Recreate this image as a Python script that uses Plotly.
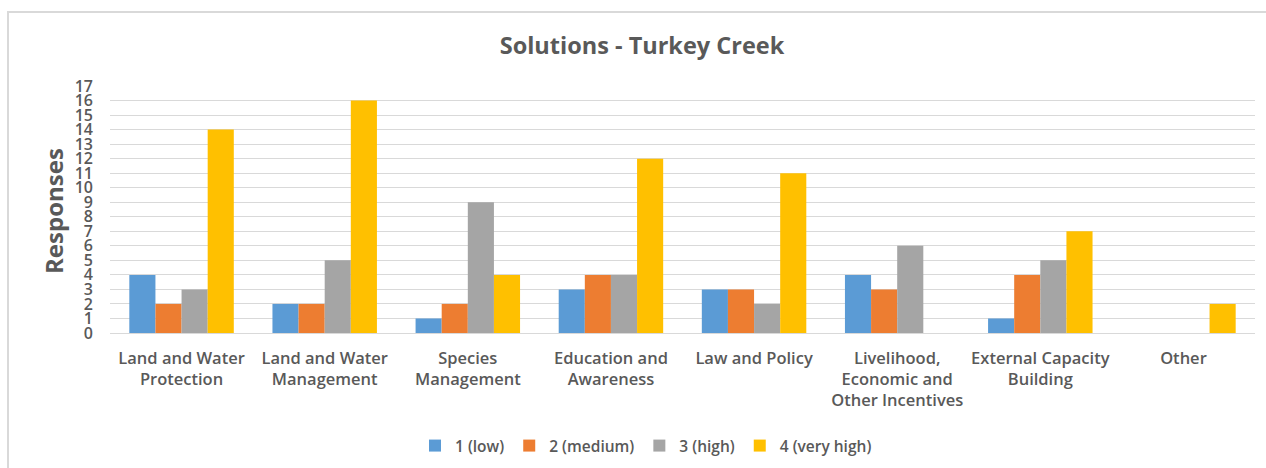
import plotly.graph_objects as go

categories = [
    "Land and Water<br>Protection",
    "Land and Water<br>Management",
    "Species<br>Management",
    "Education and<br>Awareness",
    "Law and Policy",
    "Livelihood,<br>Economic and<br>Other Incentives",
    "External Capacity<br>Building",
    "Other",
]
series_names = ["1 (low)", "2 (medium)", "3 (high)", "4 (very high)"]
low = [4, 2, 1, 3, 3, 4, 1, 0]
medium = [2, 2, 2, 4, 3, 3, 4, 0]
high = [3, 5, 9, 4, 2, 6, 5, 0]
very_high = [14, 16, 4, 12, 11, 0, 7, 2]
colors = ["#5b9bd5", "#ed7d31", "#a5a5a5", "#ffc000"]
y_ticks = list(range(0, 18))

W, H = 1266, 468
L, R, T, B = 110, 11, 86, 135
pw, ph = W - L - R, H - T - B

font_family = "'Open Sans', sans-serif"
text_color = "#595959"

fig = go.Figure()
for name, vals, col in zip(series_names, [low, medium, high, very_high], colors):
    fig.add_trace(go.Bar(x=categories, y=vals, name=name, marker_color=col,
                         marker_line_width=0))

fig.update_layout(
    width=W, height=H,
    margin=dict(l=L, r=R, t=T, b=B, autoexpand=False),
    paper_bgcolor="white", plot_bgcolor="white",
    barmode="group", bargap=0.27, bargroupgap=0,
    font=dict(family=font_family, color=text_color),
    title=dict(text="<b>Solutions - Turkey Creek</b>", x=642 / W, xref="container",
               xanchor="center", y=1 - 46 / H, yref="container", yanchor="middle",
               font=dict(size=23.5, color=text_color)),
    xaxis=dict(showline=False, ticks="", ticklabelstandoff=13,
               tickfont=dict(size=16.5, color=text_color, weight=600),
               showgrid=False, zeroline=False),
    yaxis=dict(range=[0, 17], tickvals=y_ticks, ticktext=[str(v) for v in y_ticks],
               showgrid=True, gridcolor="#d9d9d9", gridwidth=1,
               zeroline=True, zerolinecolor="#d9d9d9", zerolinewidth=1,
               showline=False, ticks="", ticklabelstandoff=16,
               tickfont=dict(size=16, color=text_color, weight=600)),
    legend=dict(orientation="h", x=646 / W, xref="container", xanchor="center",
                y=1 - 446 / H, yref="container", yanchor="middle",
                font=dict(size=15.5, color=text_color, weight=600),
                itemwidth=30, traceorder="normal"),
    showlegend=True,
)

fig.add_annotation(text="<b>Responses</b>", xref="paper", yref="paper",
                   x=(53 - L) / pw, y=(333 - 211) / ph, textangle=-90,
                   showarrow=False, xanchor="center", yanchor="middle",
                   font=dict(size=24, color=text_color))

# outer chart frame
fig.add_shape(type="rect", xref="paper", yref="paper",
              x0=(8 - L) / pw, x1=(W + 10 - L) / pw,
              y0=(H - B - H - 10) / ph, y1=(H - B - 12) / ph,
              line=dict(color="#d9d9d9", width=2), fillcolor="rgba(0,0,0,0)",
              layer="below")

fig.write_html("out.html")
